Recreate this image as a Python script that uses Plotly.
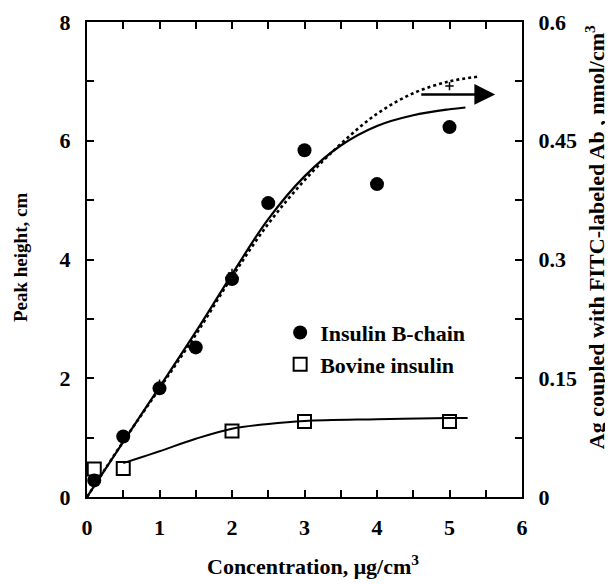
import plotly.graph_objects as go

# Measured points (peak height, cm)
conc_b = [0.1, 0.5, 1.0, 1.5, 2.0, 2.5, 3.0, 4.0, 5.0]
peak_b = [0.28, 1.02, 1.83, 2.52, 3.67, 4.95, 5.84, 5.27, 6.23]
conc_bov = [0.1, 0.5, 2.0, 3.0, 5.0]
peak_bov = [0.47, 0.48, 1.11, 1.27, 1.27]

# Fitted curves (peak height, cm)
fit_b_x = [0, 0.5, 1.0, 1.5, 2.0, 2.5, 3.0, 3.5, 4.0, 4.5, 5.0, 5.22]
fit_b_y = [0, 0.93, 1.85, 2.78, 3.75, 4.68, 5.4, 5.92, 6.25, 6.43, 6.53, 6.56]
fit_bov_x = [0.5, 0.75, 1.0, 1.5, 2.0, 2.5, 3.0, 4.0, 5.0, 5.25]
fit_bov_y = [0.57, 0.67, 0.77, 0.98, 1.15, 1.23, 1.28, 1.31, 1.33, 1.33]

# Ag coupled with FITC-labeled Ab (nmol/cm3), right axis
ag_x = [0, 0.5, 1.0, 1.5, 2.0, 2.5, 3.0, 3.5, 4.0, 4.5, 5.0, 5.4]
ag_y = [0, 0.07, 0.137, 0.205, 0.278, 0.345, 0.4, 0.446, 0.484, 0.51, 0.525, 0.531]
ag_pts_x = [1.0, 2.0, 5.0]
ag_pts_y = [0.143, 0.283, 0.519]

x_ticks = [0, 1, 2, 3, 4, 5, 6]
y_ticks = [0, 2, 4, 6, 8]
y2_ticks = [0, 0.15, 0.3, 0.45, 0.6]
y2_labels = ["0", "0.15", "0.3", "0.45", "0.6"]

FONT = "Liberation Serif, Times New Roman, serif"

fig = go.Figure()
fig.add_trace(go.Scatter(x=fit_b_x, y=fit_b_y, mode="lines", line=dict(color="black", width=2.2, shape="spline"),
                         showlegend=False, hoverinfo="skip"))
fig.add_trace(go.Scatter(x=fit_bov_x, y=fit_bov_y, mode="lines", line=dict(color="black", width=2, shape="spline"),
                         showlegend=False, hoverinfo="skip"))
fig.add_trace(go.Scatter(x=ag_x, y=ag_y, mode="lines", yaxis="y2",
                         line=dict(color="black", width=2.6, dash="dot", shape="spline"),
                         showlegend=False, hoverinfo="skip"))
fig.add_trace(go.Scatter(x=ag_pts_x, y=ag_pts_y, mode="markers", yaxis="y2",
                         marker=dict(symbol="cross-thin", size=6, line=dict(color="black", width=1.5)),
                         showlegend=False, hoverinfo="skip"))
fig.add_trace(go.Scatter(x=conc_b, y=peak_b, mode="markers", name="Insulin B-chain", legendgroup="a",
                         marker=dict(symbol="circle", size=14, color="black")))
fig.add_trace(go.Scatter(x=conc_bov, y=peak_bov, mode="markers", name="Bovine insulin", legendgroup="b",
                         marker=dict(symbol="square-open", size=13, color="black", line=dict(width=2))))

fig.add_annotation(x=5.63, y=6.78, ax=4.59, ay=6.78, xref="x", yref="y", axref="x", ayref="y",
                   showarrow=True, arrowhead=2, arrowsize=1.6, arrowwidth=2.6, arrowcolor="black", text="")

fig.add_annotation(text="Peak height, cm", xref="paper", yref="paper", x=0, y=0.503, xshift=-67,
                   xanchor="center", yanchor="middle",
                   textangle=-90, showarrow=False, font=dict(family=FONT, size=19, color="black", weight="bold"))
fig.add_annotation(text="Ag coupled with FITC-labeled Ab , nmol/cm<sup>3</sup>", xref="paper", yref="paper",
                   x=1, y=0.547, xshift=73, xanchor="center", yanchor="middle", textangle=-90, showarrow=False,
                   font=dict(family=FONT, size=22, color="black", weight="bold"))
fig.add_annotation(text="Concentration, μg/cm<sup>3</sup>", xref="paper", yref="paper", x=0.52, y=0,
                   xanchor="center", yanchor="middle",
                   yshift=-68, showarrow=False, font=dict(family=FONT, size=22, color="black", weight="bold"))

axis_common = dict(showline=True, linecolor="black", linewidth=2, ticks="inside", ticklen=7, tickwidth=2,
                   tickcolor="black", showgrid=False, zeroline=False, automargin=False,
                   tickfont=dict(family=FONT, size=22, color="black", weight="bold"))

# page body has an 8 px margin, so the figure is offset by 8 px
fig.update_layout(
    width=605, height=576,
    margin=dict(l=79, r=91, t=14, b=87, autoexpand=False),
    plot_bgcolor="white", paper_bgcolor="white",
    xaxis=dict(range=[0, 6], tickvals=x_ticks, mirror="ticks", ticklabelstandoff=10,
               minor=dict(dtick=0.5, ticks="inside", ticklen=7, tickwidth=2, tickcolor="black"),
               **axis_common),
    yaxis=dict(range=[0, 8], tickvals=y_ticks, mirror=True, ticklabelstandoff=10,
               minor=dict(dtick=1, ticks="inside", ticklen=7, tickwidth=2, tickcolor="black"),
               **axis_common),
    yaxis2=dict(range=[0, 0.6], overlaying="y", side="right", tickvals=y2_ticks, ticktext=y2_labels,
                ticklabelstandoff=10,
                minor=dict(dtick=0.075, ticks="inside", ticklen=7, tickwidth=2, tickcolor="black"),
                **axis_common),
    legend=dict(x=0.444, y=0.39, xanchor="left", yanchor="top", bgcolor="rgba(0,0,0,0)",
                traceorder="grouped", tracegroupgap=0,
                font=dict(family=FONT, size=22, color="black", weight="bold")),
    showlegend=True,
)

fig.write_html("out.html")
